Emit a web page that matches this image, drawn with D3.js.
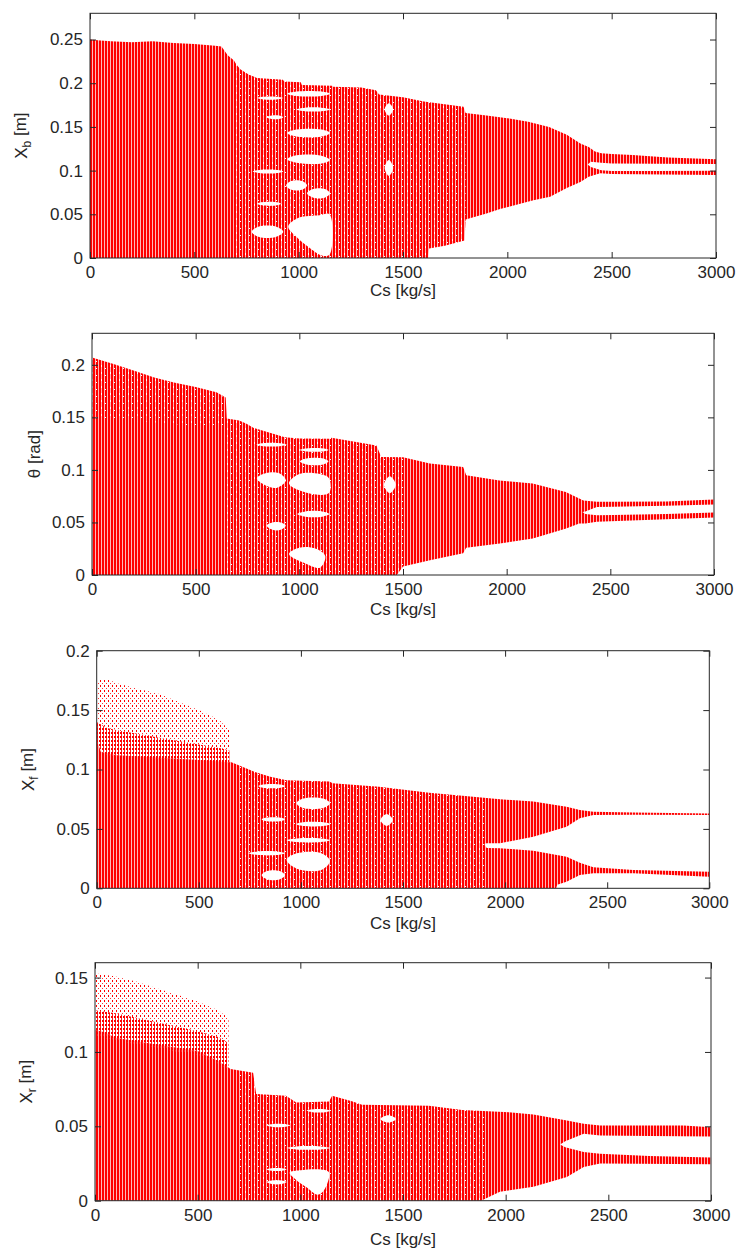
<!DOCTYPE html>
<html>
<head>
<meta charset="utf-8">
<script src="https://cdn.jsdelivr.net/npm/d3@7"></script>
<style>
  body { margin: 0; background: #fff; }
  text { font-family: "Liberation Sans", Arial, sans-serif; fill: #262626; }
</style>
</head>
<body>
<svg id="chart" width="737" height="1250"></svg>
<script>
// x ticks shared by all panels
const csTicks = [0, 500, 1000, 1500, 2000, 2500, 3000];

// ---- Xb panel ----
const csXb = [0, 50, 100, 200, 300, 400, 500, 600, 630, 660, 690, 700, 720, 760, 800, 925, 930, 1010, 1015, 1160, 1165, 1300, 1370, 1385, 1500, 1600, 1790, 1800, 1900, 2000, 2100, 2200, 2285, 2350, 2390, 2420, 2450, 2500, 2600, 2770, 3000];
const topXb = [0.250, 0.249, 0.248, 0.247, 0.248, 0.246, 0.245, 0.243, 0.242, 0.232, 0.226, 0.222, 0.216, 0.210, 0.206, 0.204, 0.202, 0.201, 0.198, 0.197, 0.196, 0.195, 0.192, 0.187, 0.184, 0.179, 0.173, 0.166, 0.163, 0.160, 0.156, 0.150, 0.141, 0.131, 0.127, 0.122, 0.120, 0.119, 0.118, 0.115, 0.113];
const botCsXb = [0, 1620, 1625, 1700, 1795, 1800, 1900, 1965, 2125, 2205, 2285, 2350, 2390, 2445, 2500, 3000];
const botXb = [0, 0, 0.011, 0.014, 0.020, 0.044, 0.051, 0.056, 0.066, 0.070, 0.080, 0.087, 0.093, 0.097, 0.096, 0.095];
const gapCsXb = [2385, 2400, 2450, 2500, 2700, 3000];
const gapHiXb = [0.107, 0.110, 0.109, 0.108, 0.1078, 0.1075];
const gapLoXb = [0.107, 0.104, 0.1005, 0.0995, 0.0995, 0.0999];
const speckCsXb = [700, 1800];
const speckHiXb = [0.23, 0.23];
const speckLoXb = [0, 0];
const holesXb = [
  [[800, 0.183], [830, 0.1845], [895, 0.1845], [926, 0.183], [895, 0.1815], [830, 0.1815]],
  [[846, 0.161], [870, 0.163], [905, 0.163], [926, 0.161], [905, 0.159], [870, 0.159]],
  [[945, 0.188], [990, 0.1905], [1110, 0.1905], [1150, 0.188], [1110, 0.1855], [990, 0.1855]],
  [[990, 0.170], [1030, 0.172], [1110, 0.172], [1150, 0.170], [1110, 0.168], [1030, 0.168]],
  [[945, 0.143], [990, 0.147], [1110, 0.147], [1150, 0.143], [1110, 0.139], [990, 0.139]],
  [[945, 0.113], [990, 0.1175], [1110, 0.117], [1150, 0.112], [1110, 0.108], [990, 0.109]],
  [[780, 0.099], [820, 0.101], [890, 0.101], [926, 0.099], [890, 0.097], [820, 0.097]],
  [[940, 0.083], [965, 0.088], [1015, 0.088], [1040, 0.083], [1015, 0.078], [965, 0.078]],
  [[1040, 0.074], [1070, 0.079], [1125, 0.079], [1150, 0.074], [1125, 0.069], [1070, 0.069]],
  [[800, 0.062], [830, 0.064], [890, 0.064], [915, 0.062], [890, 0.060], [830, 0.060]],
  [[775, 0.030], [810, 0.036], [890, 0.036], [926, 0.030], [890, 0.024], [810, 0.024]],
  [[950, 0.036], [1000, 0.046], [1100, 0.049], [1148, 0.050], [1148, 0.004], [1110, 0.003], [1050, 0.012], [990, 0.024]],
  [[1412, 0.103], [1432, 0.112], [1453, 0.103], [1432, 0.094]],
  [[1412, 0.170], [1432, 0.177], [1453, 0.170], [1432, 0.163]]
];

// ---- theta panel ----
const csTh = [0, 100, 200, 300, 400, 500, 600, 645, 650, 710, 745, 780, 930, 1000, 1147, 1155, 1372, 1395, 1500, 1630, 1790, 1805, 1965, 2125, 2285, 2350, 2370, 2435, 2515, 2770, 3000];
const topTh = [0.207, 0.201, 0.1945, 0.188, 0.183, 0.179, 0.174, 0.169, 0.149, 0.147, 0.144, 0.140, 0.131, 0.130, 0.1297, 0.1305, 0.1233, 0.1122, 0.112, 0.106, 0.1028, 0.095, 0.090, 0.087, 0.079, 0.0728, 0.071, 0.0696, 0.0696, 0.070, 0.0718];
const botCsTh = [0, 1470, 1500, 1630, 1790, 1805, 1967, 2126, 2287, 2350, 2380, 2435, 3000];
const botTh = [0, 0, 0.008, 0.014, 0.0206, 0.026, 0.030, 0.0348, 0.0443, 0.049, 0.049, 0.0506, 0.0547];
const gapCsTh = [2365, 2380, 2435, 2515, 2770, 3000];
const gapHiTh = [0.060, 0.0605, 0.0648, 0.065, 0.066, 0.067];
const gapLoTh = [0.060, 0.058, 0.0569, 0.057, 0.058, 0.0595];
const speckCsTh = [0, 300, 645, 650, 700, 1500];
const speckHiTh = [0.207, 0.188, 0.169, 0.15, 0.15, 0.15];
const speckLoTh = [0.150, 0.145, 0.140, 0, 0, 0];
const holesTh = [
  [[794, 0.124], [830, 0.1255], [900, 0.1255], [938, 0.124], [900, 0.1225], [830, 0.1225]],
  [[1003, 0.119], [1040, 0.1205], [1110, 0.1205], [1140, 0.119], [1110, 0.1175], [1040, 0.1175]],
  [[1003, 0.108], [1040, 0.111], [1110, 0.111], [1140, 0.108], [1110, 0.105], [1040, 0.105]],
  [[795, 0.092], [840, 0.097], [900, 0.097], [935, 0.090], [890, 0.083], [840, 0.085]],
  [[950, 0.087], [1000, 0.096], [1100, 0.096], [1143, 0.092], [1143, 0.078], [1040, 0.078]],
  [[990, 0.058], [1030, 0.0605], [1110, 0.0605], [1145, 0.058], [1110, 0.0555], [1030, 0.0555]],
  [[842, 0.047], [870, 0.050], [910, 0.050], [935, 0.047], [910, 0.043], [870, 0.043]],
  [[950, 0.020], [1000, 0.026], [1080, 0.025], [1125, 0.018], [1100, 0.007], [1030, 0.011]],
  [[1408, 0.086], [1436, 0.094], [1465, 0.086], [1436, 0.078]]
];

// ---- Xf panel ----
const csXf = [0, 20, 100, 300, 500, 650, 653, 775, 850, 930, 1140, 1155, 1383, 1628, 1791, 1975, 2138, 2301, 2366, 2432, 2628, 3000];
const topXf = [0.125, 0.115, 0.112, 0.110, 0.108, 0.106, 0.1066, 0.098, 0.094, 0.091, 0.0898, 0.0884, 0.0855, 0.0805, 0.078, 0.0749, 0.073, 0.0687, 0.066, 0.0645, 0.0637, 0.063];
const botCsXf = [0, 2250, 2255, 2301, 2366, 2432, 2628, 3000];
const botXf = [0, 0, 0.003, 0.0056, 0.0112, 0.0126, 0.0126, 0.0098];
const gapCsXf = [1900, 1910, 1975, 2138, 2301, 2366, 2432, 2628, 3000];
const gapHiXf = [0.0375, 0.038, 0.0379, 0.0434, 0.0519, 0.059, 0.0617, 0.062, 0.0617];
const gapLoXf = [0.0365, 0.034, 0.0337, 0.0317, 0.0266, 0.0216, 0.0177, 0.0154, 0.014];
const dotCsXf = [0, 50, 100, 200, 300, 400, 500, 600, 650];
const dotTopXf = [0.1753, 0.176, 0.1726, 0.168, 0.164, 0.157, 0.150, 0.1417, 0.133];
const dotMidXf = [0.140, 0.135, 0.133, 0.130, 0.127, 0.124, 0.121, 0.118, 0.116];
const dotBotXf = [0.120, 0.112, 0.111, 0.110, 0.109, 0.108, 0.107, 0.106, 0.106];
const speckCsXf = [700, 1900];
const speckHiXf = [0.12, 0.12];
const speckLoXf = [0, 0];
const holesXf = [
  [[792, 0.086], [825, 0.0875], [890, 0.0875], [922, 0.086], [890, 0.0845], [825, 0.0845]],
  [[979, 0.0715], [1010, 0.0755], [1110, 0.0755], [1142, 0.0715], [1110, 0.0675], [1010, 0.0675]],
  [[808, 0.058], [835, 0.0595], [895, 0.0595], [922, 0.058], [895, 0.0565], [835, 0.0565]],
  [[979, 0.054], [1010, 0.0555], [1110, 0.0555], [1142, 0.054], [1110, 0.0525], [1010, 0.0525]],
  [[930, 0.0405], [980, 0.042], [1100, 0.042], [1142, 0.0405], [1100, 0.039], [980, 0.039]],
  [[742, 0.0295], [790, 0.031], [880, 0.031], [922, 0.0295], [880, 0.028], [790, 0.028]],
  [[930, 0.024], [980, 0.0295], [1100, 0.0295], [1142, 0.023], [1100, 0.0155], [980, 0.0165]],
  [[808, 0.011], [835, 0.0145], [895, 0.0145], [922, 0.011], [895, 0.0075], [835, 0.0075]],
  [[1390, 0.0575], [1420, 0.0625], [1450, 0.0575], [1420, 0.0525]]
];

// ---- Xr panel ----
const csXr = [0, 50, 100, 300, 500, 600, 650, 660, 770, 785, 930, 980, 1140, 1155, 1255, 1300, 1626, 1788, 2016, 2135, 2298, 2380, 2460, 2866, 3000];
const topXr = [0.115, 0.113, 0.1095, 0.105, 0.1006, 0.0939, 0.0895, 0.0886, 0.086, 0.0717, 0.0706, 0.066, 0.0667, 0.0706, 0.0667, 0.0645, 0.0639, 0.061, 0.0594, 0.058, 0.0539, 0.0517, 0.0505, 0.0505, 0.0494];
const botCsXr = [0, 1880, 1972, 2135, 2298, 2380, 2460, 3000];
const botXr = [0, 0, 0.006, 0.0093, 0.016, 0.0227, 0.025, 0.0245];
const gapCsXr = [2265, 2290, 2380, 2460, 2700, 3000];
const gapHiXr = [0.0378, 0.040, 0.045, 0.0439, 0.0435, 0.0432];
const gapLoXr = [0.0378, 0.036, 0.0327, 0.0316, 0.030, 0.029];
const dotCsXr = [0, 100, 200, 300, 400, 500, 600, 650];
const dotTopXr = [0.1529, 0.1507, 0.1473, 0.1429, 0.1384, 0.134, 0.128, 0.1228];
const dotMidXr = [0.128, 0.126, 0.123, 0.120, 0.117, 0.114, 0.110, 0.106];
const dotBotXr = [0.110, 0.108, 0.105, 0.103, 0.100, 0.098, 0.092, 0.088];
const speckCsXr = [700, 1900];
const speckHiXr = [0.09, 0.09];
const speckLoXr = [0, 0];
const holesXr = [
  [[948, 0.019], [1000, 0.0205], [1100, 0.021], [1140, 0.019], [1115, 0.007], [1085, 0.004], [1030, 0.009], [980, 0.014]],
  [[836, 0.0125], [860, 0.0135], [910, 0.0135], [933, 0.0125], [910, 0.0112], [860, 0.0112]],
  [[836, 0.021], [860, 0.0218], [910, 0.0218], [933, 0.021], [910, 0.0202], [860, 0.0202]],
  [[1031, 0.0605], [1060, 0.0615], [1120, 0.0615], [1145, 0.0605], [1120, 0.0595], [1060, 0.0595]],
  [[933, 0.0355], [980, 0.0365], [1100, 0.0365], [1145, 0.0355], [1100, 0.0345], [980, 0.0345]],
  [[836, 0.0505], [865, 0.0515], [920, 0.0515], [950, 0.0505], [920, 0.0495], [865, 0.0495]],
  [[1390, 0.055], [1428, 0.0575], [1466, 0.055], [1428, 0.0525]]
];

const panels = [
  { id: "xb", left: 90, right: 716, top: 13.3, bottom: 258, ymax: 0.28,
    yticks: [0, 0.05, 0.1, 0.15, 0.2, 0.25], sym: "X", sub: "b", unit: " [m]", ylabX: 27, xlabY: 292,
    cs: csXb, hi: topXb, botCs: botCsXb, lo: botXb, gapCs: gapCsXb, gapHi: gapHiXb, gapLo: gapLoXb, holes: holesXb,
    speckCs: speckCsXb, speckHi: speckHiXb, speckLo: speckLoXb },
  { id: "th", left: 92, right: 714, top: 333.3, bottom: 575, ymax: 0.23,
    yticks: [0, 0.05, 0.1, 0.15, 0.2], sym: "θ", sub: "", unit: " [rad]", ylabX: 40, xlabY: 611,
    cs: csTh, hi: topTh, botCs: botCsTh, lo: botTh, gapCs: gapCsTh, gapHi: gapHiTh, gapLo: gapLoTh, holes: holesTh,
    speckCs: speckCsTh, speckHi: speckHiTh, speckLo: speckLoTh },
  { id: "xf", left: 96.7, right: 709.3, top: 650.7, bottom: 888.3, ymax: 0.2,
    yticks: [0, 0.05, 0.1, 0.15, 0.2], sym: "X", sub: "f", unit: " [m]", ylabX: 34, xlabY: 925,
    cs: csXf, hi: topXf, botCs: botCsXf, lo: botXf, gapCs: gapCsXf, gapHi: gapHiXf, gapLo: gapLoXf, holes: holesXf,
    speckCs: speckCsXf, speckHi: speckHiXf, speckLo: speckLoXf,
    dotCs: dotCsXf, dotHi: dotTopXf, dotMid: dotMidXf, dotLo: dotBotXf },
  { id: "xr", left: 95, right: 711, top: 962.7, bottom: 1200.7, ymax: 0.16,
    yticks: [0, 0.05, 0.1, 0.15], sym: "X", sub: "r", unit: " [m]", ylabX: 32, xlabY: 1241,
    cs: csXr, hi: topXr, botCs: botCsXr, lo: botXr, gapCs: gapCsXr, gapHi: gapHiXr, gapLo: gapLoXr, holes: holesXr,
    speckCs: speckCsXr, speckHi: speckHiXr, speckLo: speckLoXr,
    dotCs: dotCsXr, dotHi: dotTopXr, dotMid: dotMidXr, dotLo: dotBotXr }
];

const svg = d3.select("#chart");
const defs = svg.append("defs");

// vertical red lines of the bifurcation plot
const stripes = defs.append("pattern").attr("id", "stripes")
  .attr("patternUnits", "userSpaceOnUse").attr("width", 3).attr("height", 4);
stripes.append("rect").attr("width", 3).attr("height", 4).attr("fill", "#ffb8b8");
stripes.append("rect").attr("width", 2).attr("height", 4).attr("fill", "#ff0000");

// scattered points, sparse and denser
const dots = defs.append("pattern").attr("id", "dots")
  .attr("patternUnits", "userSpaceOnUse").attr("width", 4).attr("height", 5);
dots.append("rect").attr("x", 0).attr("y", 0).attr("width", 1).attr("height", 2).attr("fill", "#ff0000");
dots.append("rect").attr("x", 2).attr("y", 3).attr("width", 1).attr("height", 1).attr("fill", "#ff3030");
const dots2 = defs.append("pattern").attr("id", "dots2")
  .attr("patternUnits", "userSpaceOnUse").attr("width", 3).attr("height", 4);
dots2.append("rect").attr("x", 0).attr("y", 0).attr("width", 2).attr("height", 2).attr("fill", "#ff0000");
dots2.append("rect").attr("x", 1).attr("y", 2).attr("width", 1).attr("height", 2).attr("fill", "#ff2020");

// white speckles inside dense region
const speck = defs.append("pattern").attr("id", "speck")
  .attr("patternUnits", "userSpaceOnUse").attr("width", 9).attr("height", 7);
speck.append("rect").attr("x", 2).attr("y", 1).attr("width", 1).attr("height", 2).attr("fill", "#fff");
speck.append("rect").attr("x", 6).attr("y", 4).attr("width", 1).attr("height", 1).attr("fill", "#fff");

function band(csA, hiA, csB, loA) {
  const up = csA.map((c, i) => [c, hiA[i]]);
  const down = csB.map((c, i) => [c, loA[i]]).reverse();
  return up.concat(down);
}

panels.forEach(p => {
  const x = d3.scaleLinear().domain([0, 3000]).range([p.left, p.right]);
  const y = d3.scaleLinear().domain([0, p.ymax]).range([p.bottom, p.top]);
  const poly = d3.line().x(d => x(d[0])).y(d => y(d[1])).curve(d3.curveLinearClosed);
  const blob = d3.line().x(d => x(d[0])).y(d => y(d[1])).curve(d3.curveCatmullRomClosed.alpha(0.5));

  defs.append("clipPath").attr("id", "clip-" + p.id)
    .append("rect").attr("x", p.left).attr("y", p.top)
    .attr("width", p.right - p.left).attr("height", p.bottom - p.top);

  const g = svg.append("g").attr("clip-path", "url(#clip-" + p.id + ")");

  g.append("path").attr("d", poly(band(p.cs, p.hi, p.botCs, p.lo))).attr("fill", "url(#stripes)");
  g.append("path").attr("d", poly(band(p.speckCs, p.speckHi, p.speckCs, p.speckLo))).attr("fill", "url(#speck)");
  g.append("path").attr("d", poly(band(p.gapCs, p.gapHi, p.gapCs, p.gapLo))).attr("fill", "#fff");
  g.selectAll(".hole").data(p.holes).enter().append("path")
    .attr("class", "hole").attr("d", d => blob(d)).attr("fill", "#fff");
  if (p.dotCs) {
    g.append("path").attr("d", poly(band(p.dotCs, p.dotMid, p.dotCs, p.dotLo))).attr("fill", "url(#dots2)");
    g.append("path").attr("d", poly(band(p.dotCs, p.dotHi, p.dotCs, p.dotMid))).attr("fill", "url(#dots)");
  }

  const fmt = d => String(+d.toFixed(2));
  const ax = svg.append("g").attr("class", "axes");
  ax.append("g").attr("transform", "translate(0," + p.bottom + ")")
    .call(d3.axisBottom(x).tickValues(csTicks).tickFormat(d => String(d)).tickSizeInner(-6).tickSizeOuter(0).tickPadding(8));
  ax.append("g").attr("transform", "translate(0," + p.top + ")")
    .call(d3.axisTop(x).tickValues(csTicks).tickFormat("").tickSizeInner(-6).tickSizeOuter(0));
  ax.append("g").attr("transform", "translate(" + p.left + ",0)")
    .call(d3.axisLeft(y).tickValues(p.yticks).tickFormat(fmt).tickSizeInner(-6).tickSizeOuter(0).tickPadding(7));
  ax.append("g").attr("transform", "translate(" + p.right + ",0)")
    .call(d3.axisRight(y).tickValues(p.yticks).tickFormat("").tickSizeInner(-6).tickSizeOuter(0));
  ax.selectAll("path.domain").remove();
  ax.selectAll("line").attr("stroke", "#262626");
  ax.selectAll("text").style("font-size", "17px").attr("fill", "#262626");
  ax.append("rect").attr("x", p.left).attr("y", p.top)
    .attr("width", p.right - p.left).attr("height", p.bottom - p.top)
    .attr("fill", "none").attr("stroke", "#262626").attr("stroke-width", 1);

  svg.append("text").attr("x", (p.left + p.right) / 2).attr("y", p.xlabY)
    .attr("text-anchor", "middle").attr("dominant-baseline", "middle")
    .style("font-size", "17px").text("Cs [kg/s]");

  const yl = svg.append("text")
    .attr("transform", "translate(" + p.ylabX + "," + ((p.top + p.bottom) / 2) + ") rotate(-90)")
    .attr("text-anchor", "middle").style("font-size", "17px");
  yl.append("tspan").text(p.sym);
  if (p.sub) {
    yl.append("tspan").attr("dy", "0.3em").style("font-size", "12px").text(p.sub);
    yl.append("tspan").attr("dy", "-0.3em").text(p.unit);
  } else {
    yl.append("tspan").text(p.unit);
  }
});
</script>
</body>
</html>
